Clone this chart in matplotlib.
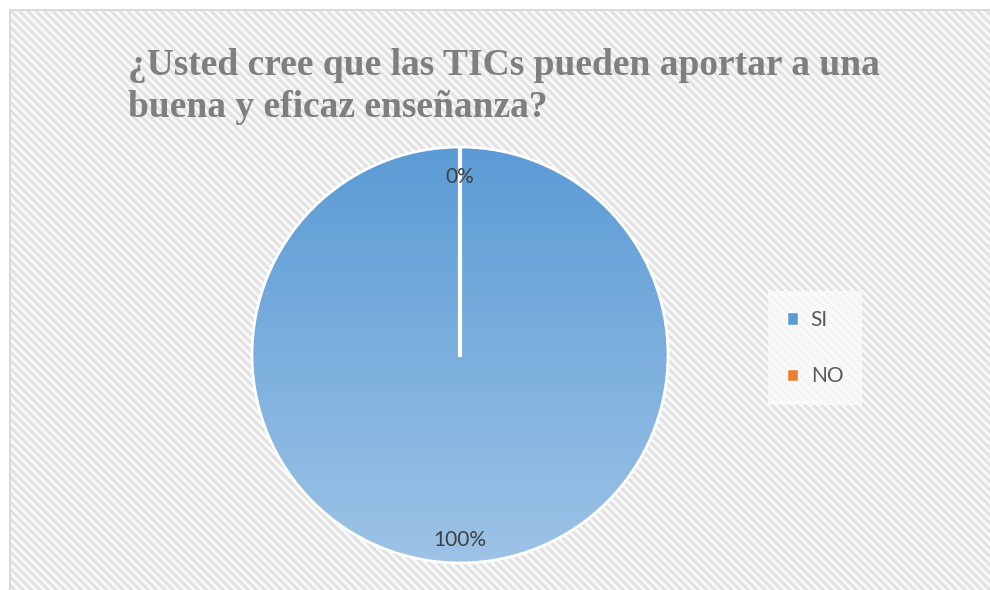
import numpy as np
import matplotlib.pyplot as plt
import matplotlib.patches as mpatches
from matplotlib.colors import LinearSegmentedColormap

# datos
labels = ["SI", "NO"]
values = [100, 0]
pct_labels = ["100%", "0%"]
title_lines = ["¿Usted cree que las TICs pueden aportar a una",
               "buena y eficaz enseñanza?"]

plt.rcParams['hatch.linewidth'] = 2.2

W, H = 990, 590
fig = plt.figure(figsize=(W / 100, H / 100), dpi=100)
fig.patch.set_facecolor('white')

# fondo rayado con borde
bg = mpatches.Rectangle((9 / W, 0), 1, 1 - 9 / H, transform=fig.transFigure,
                        facecolor='#f9f9f9', edgecolor='#e2e2e2', lw=0,
                        hatch='\\\\\\\\', zorder=-3)
fig.patches.append(bg)
brd = mpatches.Rectangle((9.5 / W, -0.01), 1.02, 1 - 9.5 / H + 0.01, transform=fig.transFigure,
                         facecolor='none', edgecolor='#d9d9d9', lw=1.5, zorder=-2)
fig.patches.append(brd)

for i, line in enumerate(title_lines):
    fig.text(128 / W, 1 - (75 + 42 * i) / H, line, ha='left', va='baseline', fontsize=27,
             family='Liberation Serif', weight='bold', color='#7f7f7f')

# pie
cx, cy, r = 460, 355, 208
ax = fig.add_axes([(cx - r) / W, 1 - (cy + r) / H, 2 * r / W, 2 * r / H])
colors = ['#5b9bd5', '#ed7d31']
wedges, _ = ax.pie(values, colors=colors, startangle=90, counterclock=False, radius=1,
                   wedgeprops=dict(edgecolor='white', linewidth=2), frame=True)
ax.set_xlim(-1.0, 1.0)
ax.set_ylim(-1.0, 1.0)
ax.axis('off')

# degradado
cmap = LinearSegmentedColormap.from_list('g', ['#9dc3e6', '#5b9bd5'])
grad = np.linspace(0, 1, 256).reshape(-1, 1)
im = ax.imshow(grad, extent=[-1, 1, -1, 1], origin='lower', cmap=cmap, aspect='auto', zorder=1.5)
im.set_clip_path(wedges[0])
for w in wedges:
    w.set_zorder(2)
    w.set_facecolor('none')
# linea blanca del 0%
ax.plot([0, 0], [0, 1], color='white', lw=3, zorder=3)

ax.text(0, -0.89, pct_labels[0], ha='center', va='center', fontsize=15,
        family='Lato', color='#404040', zorder=4)
ax.text(0, 0.855, pct_labels[1], ha='center', va='center', fontsize=15,
        family='Lato', color='#404040', zorder=4)

# leyenda
handles = [mpatches.Patch(facecolor=c, edgecolor='white', lw=1) for c in colors]
leg = fig.legend(handles, labels, loc='center left', bbox_to_anchor=(768 / W, 1 - 348 / H),
                 frameon=True, prop={'family': 'Lato', 'size': 15}, labelcolor='#595959',
                 handlelength=0.55, handleheight=0.55, handletextpad=0.6,
                 labelspacing=1.75, borderpad=0.9, borderaxespad=0)
leg.get_frame().set_facecolor('#fbfbfb')
leg.get_frame().set_edgecolor('none')
leg.get_frame().set_alpha(0.8)
leg.get_frame().set_boxstyle('square', pad=0)

fig.savefig('out.png', dpi=100)
